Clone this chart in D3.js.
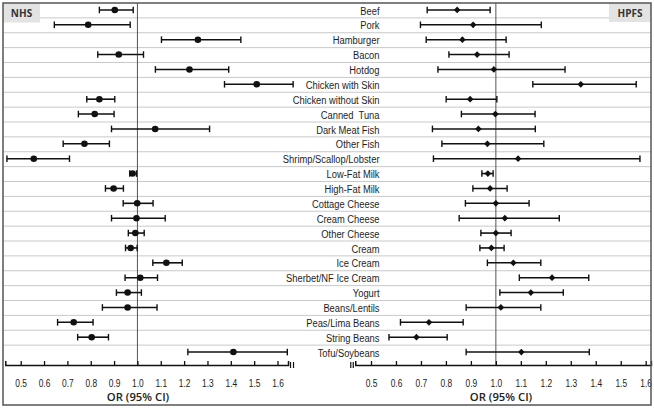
<!DOCTYPE html>
<html>
<head>
<meta charset="utf-8">
<script src="https://cdn.jsdelivr.net/npm/d3@7"></script>
<style>
  html, body { margin: 0; padding: 0; background: #fff; }
  svg { display: block; }
  .cat { font-family: "Liberation Sans", Arial, sans-serif; font-size: 11.7px; fill: #1e1e1e; }
  .tick text { font-family: "Liberation Sans", Arial, sans-serif; font-size: 10.5px; fill: #222; }
  .axtitle { font-family: "Open Sans", sans-serif; font-weight: 600; font-size: 11.3px; fill: #222; }
  .tag { font-family: "Open Sans", sans-serif; font-weight: 700; font-size: 10px; fill: #333; }
</style>
</head>
<body>
<svg id="chart" width="654" height="409"></svg>
<script>
// ---- data ----
const categories = ["Beef","Pork","Hamburger","Bacon","Hotdog","Chicken with Skin","Chicken without Skin",
  "Canned  Tuna","Dark Meat Fish","Other Fish","Shrimp/Scallop/Lobster","Low-Fat Milk","High-Fat Milk",
  "Cottage Cheese","Cream Cheese","Other Cheese","Cream","Ice Cream","Sherbet/NF Ice Cream","Yogurt",
  "Beans/Lentils","Peas/Lima Beans","String Beans","Tofu/Soybeans"];

// NHS (left panel)
const nhsOR    = [0.903,0.789,1.259,0.920,1.223,1.511,0.837,0.817,1.076,0.773,0.556,0.979,0.898,0.999,0.996,0.991,0.971,1.124,1.012,0.958,0.958,0.727,0.804,1.411];
const nhsLower = [0.837,0.644,1.103,0.830,1.077,1.373,0.783,0.747,0.889,0.682,0.441,0.967,0.863,0.939,0.889,0.961,0.949,1.066,0.947,0.910,0.850,0.658,0.744,1.216];
const nhsUpper = [0.982,0.969,1.443,1.026,1.391,1.667,0.903,0.900,1.309,0.880,0.709,0.996,0.940,1.067,1.119,1.029,0.999,1.192,1.086,1.017,1.084,0.810,0.876,1.642];

// HPFS (right panel)
const hpfsOR    = [0.845,0.909,0.866,0.925,0.992,1.340,0.897,0.998,0.930,0.966,1.089,0.968,0.977,1.000,1.036,1.000,0.982,1.070,1.225,1.140,1.020,0.732,0.682,1.102];
const hpfsLower = [0.725,0.698,0.721,0.812,0.768,1.148,0.801,0.862,0.746,0.784,0.750,0.944,0.908,0.878,0.853,0.940,0.936,0.966,1.094,1.016,0.881,0.618,0.572,0.881];
const hpfsUpper = [0.977,1.182,1.041,1.053,1.277,1.562,1.004,1.157,1.158,1.192,1.577,0.989,1.045,1.133,1.254,1.061,1.033,1.180,1.372,1.270,1.180,0.869,0.805,1.374];

const tickValues = [0.5,0.6,0.7,0.8,0.9,1.0,1.1,1.2,1.3,1.4,1.5,1.6];
const tickLabels = ["0.5","0.6","0.7","0.8","0.9","1.0","1.1","1.2","1.3","1.4","1.5","1.6"];
const panelTags = ["NHS","HPFS"];
const axisTitle = "OR (95% CI)";

// ---- layout ----
const svg = d3.select("#chart");
const frame = {x0: 3, y0: 3, x1: 651, y1: 405};
const axisY = 365;
const narrow = 0.8;

const y = d3.scaleBand().domain(categories).range([3, 360]);
const xL = d3.scaleLinear().domain([0.5, 1.6]).range([20.7, 277.5]);
const xR = d3.scaleLinear().domain([0.5, 1.6]).range([371.0, 645.7]);
const xLdom = [0.434, 1.645];
const xRdom = [0.437, 1.621];

// row grid lines
svg.append("g").selectAll("line")
  .data(categories.slice(1))
  .join("line")
  .attr("x1", frame.x0).attr("x2", frame.x1)
  .attr("y1", d => y(d)).attr("y2", d => y(d))
  .attr("stroke", "#c9c9c9").attr("stroke-width", 1);

// tag boxes
svg.append("rect").attr("x", 3).attr("y", 3).attr("width", 37).attr("height", 19.5).attr("fill", "#e3e3e3");
svg.append("text").attr("class", "tag").attr("x", 21.5).attr("y", 16.5).attr("text-anchor", "middle").text(panelTags[0]);
svg.append("rect").attr("x", 609).attr("y", 3).attr("width", 42).attr("height", 19).attr("fill", "#e3e3e3");
svg.append("text").attr("class", "tag").attr("x", 630).attr("y", 16.5).attr("text-anchor", "middle").text(panelTags[1]);

// reference lines at 1.0
[xL, xR].forEach(x => {
  svg.append("line")
    .attr("x1", x(1)).attr("x2", x(1))
    .attr("y1", frame.y0).attr("y2", axisY)
    .attr("stroke", "#555").attr("stroke-width", 1);
});

// category labels (condensed)
svg.append("g")
  .attr("transform", `translate(379.5,0) scale(${narrow},1)`)
  .selectAll("text")
  .data(categories)
  .join("text")
  .attr("class", "cat")
  .attr("x", 0)
  .attr("y", d => y(d) + y.bandwidth() / 2)
  .attr("dy", "0.35em")
  .attr("text-anchor", "end")
  .style("white-space", "pre")
  .text(d => d);

function drawPanel(x, ors, lows, ups, marker) {
  const g = svg.append("g");
  const rows = categories.map((c, i) => ({c, or: ors[i], lo: lows[i], hi: ups[i]}));
  const cy = d => y(d.c) + y.bandwidth() / 2 - 0.5;
  g.selectAll("line.ci").data(rows).join("line").attr("class", "ci")
    .attr("x1", d => x(d.lo)).attr("x2", d => x(d.hi))
    .attr("y1", cy).attr("y2", cy)
    .attr("stroke", "#111").attr("stroke-width", 1.6);
  ["lo", "hi"].forEach(k => {
    g.selectAll("line.cap" + k).data(rows).join("line").attr("class", "cap" + k)
      .attr("x1", d => x(d[k])).attr("x2", d => x(d[k]))
      .attr("y1", d => cy(d) - 3.3).attr("y2", d => cy(d) + 3.3)
      .attr("stroke", "#111").attr("stroke-width", 1.4);
  });
  if (marker === "circle") {
    g.selectAll("circle").data(rows).join("circle")
      .attr("cx", d => x(d.or)).attr("cy", cy).attr("r", 3.3).attr("fill", "#111");
  } else {
    const sym = d3.symbol(d3.symbolSquare).size(22);
    g.selectAll("path.m").data(rows).join("path").attr("class", "m")
      .attr("d", sym)
      .attr("transform", d => `translate(${x(d.or)},${cy(d)}) rotate(45)`)
      .attr("fill", "#111");
  }
}
drawPanel(xL, nhsOR, nhsLower, nhsUpper, "circle");
drawPanel(xR, hpfsOR, hpfsLower, hpfsUpper, "diamond");

// axes
function drawAxis(x, dom, breakSide, titleX) {
  const xa = x.copy().domain(dom).range(dom.map(v => x(v)));
  const ax = d3.axisBottom(xa)
    .tickValues(tickValues)
    .tickFormat((d, i) => tickLabels[i])
    .tickSizeInner(-4).tickSizeOuter(-4).tickPadding(14.5);
  const g = svg.append("g").attr("transform", `translate(0,${axisY})`).call(ax);
  g.select(".domain").attr("stroke", "#111").attr("stroke-width", 1.5);
  g.selectAll(".tick line").attr("stroke", "#111").attr("stroke-width", 1.3);
  g.selectAll(".tick text").attr("transform", `scale(${narrow},1)`);
  const end = breakSide === "right" ? xa(dom[1]) : xa(dom[0]);
  const offs = breakSide === "right" ? [2.5, 5.5] : [-4.5, -2];
  offs.forEach(o => {
    g.append("line").attr("x1", end + o).attr("x2", end + o)
      .attr("y1", -3).attr("y2", 3).attr("stroke", "#111").attr("stroke-width", 1.2);
  });
  svg.append("text").attr("class", "axtitle")
    .attr("x", titleX).attr("y", 401).attr("text-anchor", "middle").text(axisTitle);
}
drawAxis(xL, xLdom, "right", 138);
drawAxis(xR, xRdom, "left", 501);

// frame
svg.append("rect")
  .attr("x", frame.x0).attr("y", frame.y0)
  .attr("width", frame.x1 - frame.x0).attr("height", frame.y1 - frame.y0)
  .attr("fill", "none").attr("stroke", "#555").attr("stroke-width", 1.5);
</script>
</body>
</html>
